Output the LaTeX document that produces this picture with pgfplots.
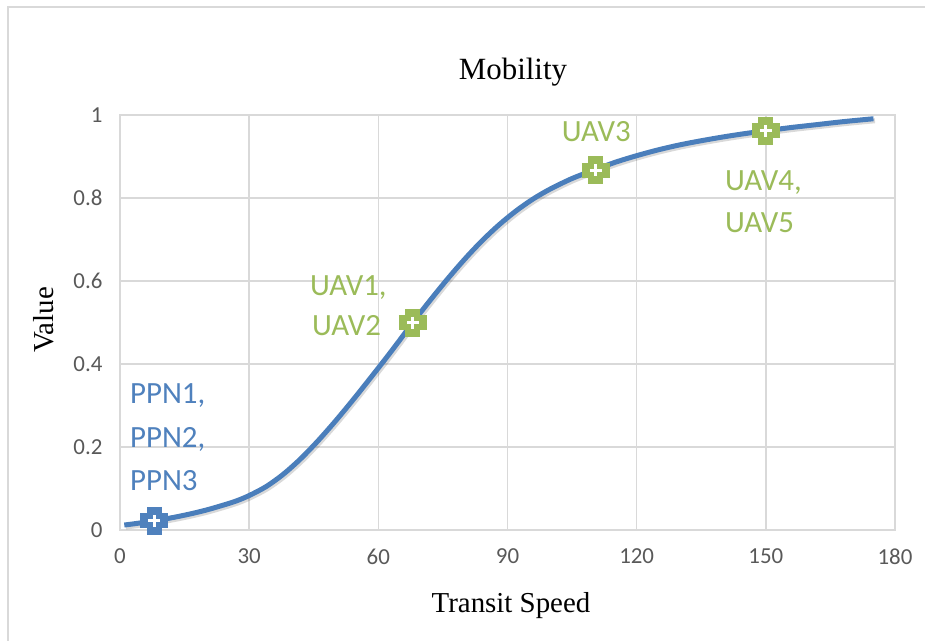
\documentclass[border=0pt]{standalone}
\usepackage{pgfplots}
\pgfplotsset{compat=1.18}
\usepackage{fontspec}
\setmainfont{Liberation Serif}
\newfontfamily\calibri{Carlito}

\definecolor{curveblue}{HTML}{4A7EBB}
\definecolor{markblue}{HTML}{4F81BD}
\definecolor{markgreen}{HTML}{9BBB59}
\definecolor{tickgray}{HTML}{595959}
\definecolor{gridgray}{HTML}{D9D9D9}

% smoothed mobility curve
\pgfplotstableread{
x      y
1      0.012
4      0.016
8      0.022
12     0.0295
16     0.038
20     0.048
24     0.060
27     0.070
30     0.083
34     0.105
38     0.135
42     0.172
46     0.215
50     0.262
54     0.312
58     0.364
62     0.417
65     0.458
68     0.500
72     0.553
76     0.604
80     0.652
84     0.696
88     0.735
92     0.769
96     0.798
100    0.822
105    0.847
110    0.867
115    0.886
120    0.902
125    0.916
130    0.928
135    0.938
140    0.947
145    0.955
150    0.962
156    0.970
162    0.977
168    0.984
175    0.991
}\curvedata

\begin{document}
\begin{tikzpicture}
\useasboundingbox (0,0) rectangle (925bp,-641bp);
\draw[gridgray, line width=1.5bp] (8bp,-641bp) -- (8bp,-7bp) -- (925bp,-7bp);

\begin{axis}[
    at={(120bp,-530bp)}, anchor=south west,
    scale only axis, width=775bp, height=415bp,
    xmin=0, xmax=180, ymin=0, ymax=1,
    xtick distance=30, ytick distance=0.2,
    grid=major, grid style={gridgray, line width=1.5bp},
    axis line style={gridgray, line width=1.5bp},
    major tick length=0pt,
    clip=false,
    tick label style={font=\fontsize{23}{23}\selectfont\calibri, text=tickgray},
    /pgf/number format/assume math mode=true,
    xticklabel style={yshift=-15bp},
    yticklabel style={xshift=-14bp},
  ]
  % soft shadow under the curve
  \addplot[smooth, no marks, black, opacity=0.15, line width=5bp,
           xshift=1.5bp, yshift=-2bp] table {\curvedata};
  \addplot[smooth, no marks, curveblue, line width=5bp] table {\curvedata};

  % PPN marker
  \addplot[only marks, mark=+, mark size=14bp,
           mark options={line width=15bp, line cap=butt, draw=markblue}]
    coordinates {(8,0.022)};
  \addplot[only marks, mark=+, mark size=6bp,
           mark options={line width=3.2bp, line cap=butt, draw=white}]
    coordinates {(8,0.022)};
  % UAV markers
  \addplot[only marks, mark=+, mark size=14bp,
           mark options={line width=15bp, line cap=butt, draw=markgreen}]
    coordinates {(68,0.5) (110.5,0.867) (150,0.962)};
  \addplot[only marks, mark=+, mark size=6bp,
           mark options={line width=3.2bp, line cap=butt, draw=white}]
    coordinates {(68,0.5) (110.5,0.867) (150,0.962)};

  \begin{scope}[every node/.style={anchor=base west, inner sep=0pt,
                font=\fontsize{31}{31}\selectfont\calibri}]
    \node[text=markblue] at (axis cs:2.3,0.306) {PPN1,};
    \node[text=markblue] at (axis cs:2.3,0.200) {PPN2,};
    \node[text=markblue] at (axis cs:2.3,0.096) {PPN3};
    \node[text=markgreen] at (axis cs:44.1,0.566) {UAV1,};
    \node[text=markgreen] at (axis cs:44.6,0.468) {UAV2};
    \node[text=markgreen] at (axis cs:102.6,0.935) {UAV3};
    \node[text=markgreen] at (axis cs:140.5,0.819) {UAV4,};
    \node[text=markgreen] at (axis cs:140.5,0.716) {UAV5};
  \end{scope}
\end{axis}

\node[anchor=base, inner sep=0pt, font=\fontsize{31}{31}\selectfont]
  at (513bp,-79bp) {Mobility};
\node[anchor=base, inner sep=0pt, font=\fontsize{29}{29}\selectfont]
  at (511bp,-612bp) {Transit Speed};
\node[anchor=base, inner sep=0pt, rotate=90, font=\fontsize{29}{29}\selectfont]
  at (53bp,-320bp) {Value};
\end{tikzpicture}
\end{document}
